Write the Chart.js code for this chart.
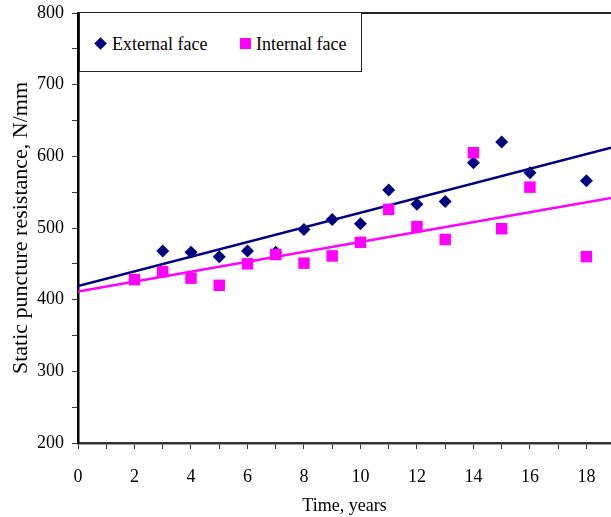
<!DOCTYPE html>
<html>
<head>
<meta charset="utf-8">
<script src="https://cdn.jsdelivr.net/npm/chart.js@4.4.1/dist/chart.umd.min.js"></script>
<style>
  html, body { margin: 0; padding: 0; background: #fff; }
  #wrap { position: relative; width: 611px; height: 517px; }
  #legend {
    position: absolute; left: 79px; top: 12px; width: 283px; height: 60px;
    border: 1px solid #222; background: #fff; box-sizing: border-box;
    font: 18px "Liberation Serif", "Times New Roman", serif; color: #000;
  }
  #legend .item { position: absolute; top: 22px; line-height: 18px; white-space: nowrap; }
  #legend .diamond {
    position: absolute; width: 9px; height: 9px; background: #000080;
    transform: rotate(45deg);
  }
  #legend .square { position: absolute; width: 11px; height: 11px; background: #ff00ff; }
</style>
</head>
<body>
<div id="wrap">
  <canvas id="chart" width="611" height="517"></canvas>
  <div id="legend">
    <span class="diamond" style="left: 16px; top: 26px;"></span>
    <span class="item" style="left: 32px;">External face</span>
    <span class="square" style="left: 160px; top: 25px;"></span>
    <span class="item" style="left: 176px;">Internal face</span>
  </div>
</div>
<script>
// measured values, N/mm
const externalYears = [3, 4, 5, 6, 7, 8, 9, 10, 11, 12, 13, 14, 15, 16, 18];
const externalFace = [468, 466, 460, 468, 466, 498, 512, 506, 553, 533, 537, 591, 620, 577, 566];
const internalYears = [2, 3, 4, 5, 6, 7, 8, 9, 10, 11, 12, 13, 14, 15, 16, 18];
const internalFace = [428, 439, 430, 420, 450, 463, 451, 461, 480, 526, 502, 484, 605, 499, 557, 460];

// linear trend lines, end points at the axis limits
const trendYears = [0, 18.87];
const externalTrend = [419, 612];
const internalTrend = [411.5, 542];

const NAVY = "#000080";
const MAGENTA = "#ff00ff";

const toPoints = (xs, ys) => xs.map((x, i) => ({ x, y: ys[i] }));

// top edge of the plot frame
const frameTop = {
  id: "frameTop",
  afterDraw(chart) {
    const { ctx, chartArea: a } = chart;
    ctx.save();
    ctx.strokeStyle = "#222";
    ctx.lineWidth = 2;
    ctx.beginPath();
    ctx.moveTo(a.left, a.top);
    ctx.lineTo(a.right, a.top);
    ctx.stroke();
    ctx.restore();
  },
};

Chart.defaults.font.family = '"Liberation Serif", "Times New Roman", serif';
Chart.defaults.font.size = 18;
Chart.defaults.color = "#000";

new Chart(document.getElementById("chart").getContext("2d"), {
  type: "scatter",
  data: {
    datasets: [
      {
        label: "Internal face",
        data: toPoints(internalYears, internalFace),
        pointStyle: "rect",
        pointRadius: 8.1,
        backgroundColor: MAGENTA,
        borderColor: MAGENTA,
        borderWidth: 0,
        order: 0,
      },
      {
        label: "External face",
        data: toPoints(externalYears, externalFace),
        pointStyle: "rectRot",
        pointRadius: 6.5,
        backgroundColor: NAVY,
        borderColor: NAVY,
        borderWidth: 0,
        order: 1,
      },
      {
        label: "Internal trend",
        data: toPoints(trendYears, internalTrend),
        showLine: true,
        borderColor: MAGENTA,
        borderWidth: 2.5,
        pointRadius: 0,
        order: 2,
      },
      {
        label: "External trend",
        data: toPoints(trendYears, externalTrend),
        showLine: true,
        borderColor: NAVY,
        borderWidth: 2.5,
        pointRadius: 0,
        order: 3,
      },
    ],
  },
  options: {
    responsive: false,
    animation: false,
    layout: { autoPadding: false, padding: { top: 13, right: 0, bottom: 0, left: 0 } },
    plugins: { legend: { display: false }, tooltip: { enabled: false } },
    scales: {
      x: {
        type: "linear",
        min: 0,
        max: 18.87,
        afterFit: (s) => {
          s.height = 74;
          s.paddingLeft = 0;
          s.paddingRight = 0;
        },
        border: { color: "#333", width: 2.5 },
        grid: { drawOnChartArea: false, color: "#333", tickLength: 6 },
        ticks: {
          stepSize: 1,
          includeBounds: false,
          autoSkip: false,
          maxRotation: 0,
          padding: 17,
          callback: (v) => (v % 2 === 0 ? v : ""),
        },
        title: { display: true, text: "Time, years", font: { size: 18 }, padding: { top: 0, bottom: 0 } },
      },
      y: {
        min: 200,
        max: 800,
        afterFit: (s) => {
          s.width = 78;
          s.paddingTop = 0;
          s.paddingBottom = 0;
        },
        border: { color: "#000", width: 2.5 },
        grid: { drawOnChartArea: false, color: "#333", tickLength: 6 },
        ticks: {
          stepSize: 50,
          autoSkip: false,
          padding: 8,
          callback: (v) => (v % 100 === 0 ? v : ""),
        },
        title: {
          display: true,
          text: "Static puncture resistance, N/mm",
          font: { size: 22 },
          padding: { top: 8, bottom: 0 },
        },
      },
    },
  },
  plugins: [frameTop],
});
</script>
</body>
</html>
